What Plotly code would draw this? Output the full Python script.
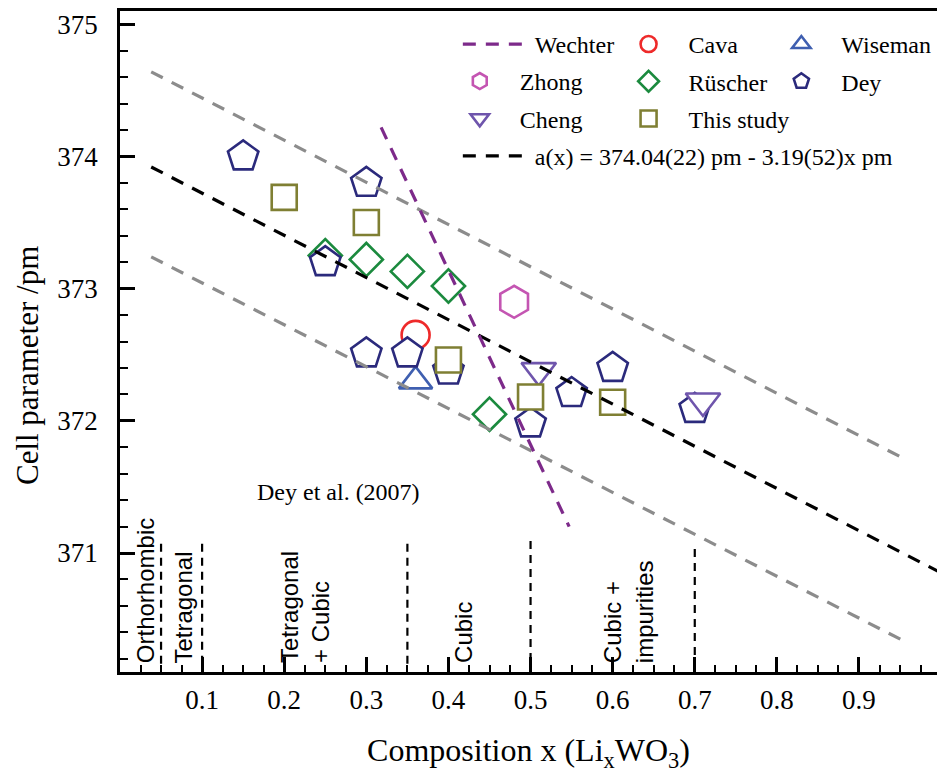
import plotly.graph_objects as go

# ---------------- data ----------------
dey_x = [0.15, 0.30, 0.25, 0.30, 0.35, 0.40, 0.50, 0.55, 0.60, 0.70]
dey_y = [374.00, 373.80, 373.20, 372.51, 372.51, 372.38, 371.98, 372.21, 372.40, 372.09]
ruscher_x = [0.25, 0.30, 0.35, 0.40, 0.45]
ruscher_y = [373.25, 373.22, 373.13, 373.02, 372.05]
study_x = [0.20, 0.30, 0.40, 0.50, 0.60]
study_y = [373.69, 373.50, 372.46, 372.18, 372.14]
cava_x = [0.36]
cava_y = [372.65]
wiseman_x = [0.36]
wiseman_y = [372.30]
zhong_x = [0.48]
zhong_y = [372.90]
cheng_x = [0.51, 0.71]
cheng_y = [372.38, 372.15]

wechter_x = [0.318, 0.547]
wechter_y = [374.22, 371.20]
fit_x = [0.038, 1.0]
fit_y = [373.92, 370.85]
band_x = [0.038, 0.956]
band_upper = [374.64, 371.71]
band_lower = [373.24, 370.33]

phase_x = [0.05, 0.10, 0.35, 0.50, 0.70]
phase_top = [371.07, 371.07, 371.07, 371.09, 371.03]
phase_bottom = [370.12, 370.12, 370.12, 370.12, 370.12]
phase_labels = ["Orthorhombic", "Tetragonal", "Tetragonal<br>+ Cubic", "Cubic", "Cubic +<br>impurities"]
phase_label_x = [0.032, 0.077, 0.226, 0.419, 0.619]
phase_label_y = 370.15

x_tickvals = [0.1, 0.2, 0.3, 0.4, 0.5, 0.6, 0.7, 0.8, 0.9]
x_ticktext = ["0.1", "0.2", "0.3", "0.4", "0.5", "0.6", "0.7", "0.8", "0.9"]
y_tickvals = [371, 372, 373, 374, 375]
y_ticktext = ["371", "372", "373", "374", "375"]

fit_label = "a(x) = 374.04(22) pm - 3.19(52)x pm"

# ---------------- styling ----------------
SERIF = 'Liberation Serif, "Times New Roman", Times, serif'
SANS = 'Liberation Sans, Arial, sans-serif'
C_DEY = "#2b2a7c"
C_RUS = "#1b8a3e"
C_STUDY = "#7f7f33"
C_CAVA = "#ee2a2a"
C_WIS = "#3f5fb0"
C_ZHONG = "#c455b2"
C_CHENG = "#6f55ac"
C_WECH = "#7d2a8a"
C_GRAY = "#8c8c8c"
DASH = "13px,10px"

fig = go.Figure()


def mk(name, xs, ys, symbol, size, color, legend, rank):
    fig.add_trace(go.Scatter(
        x=xs, y=ys, mode="markers", name=name,
        marker=dict(symbol=symbol, size=size, color="white",
                    line=dict(color=color, width=2.6)),
        legend=legend, legendrank=rank, legendgroup=name, cliponaxis=False,
    ))


mk("Rüscher", ruscher_x, ruscher_y, "diamond", 25.5, C_RUS, "legend2", 2)
mk("Cava", cava_x, cava_y, "circle", 28, C_CAVA, "legend2", 1)
mk("Wiseman", wiseman_x, wiseman_y, "triangle-up", 29, C_WIS, "legend3", 1)
mk("Dey", dey_x, dey_y, "pentagon", 32, C_DEY, "legend3", 2)
mk("Zhong", zhong_x, zhong_y, "hexagon", 32, C_ZHONG, "legend5", 1)
mk("Cheng", cheng_x, cheng_y, "triangle-down", 30, C_CHENG, "legend5", 2)
mk("This study", study_x, study_y, "square", 25, C_STUDY, "legend2", 3)

# confidence band lines
fig.add_trace(go.Scatter(x=band_x, y=band_upper, mode="lines", showlegend=False,
                         line=dict(color=C_GRAY, width=3.2, dash=DASH)))
fig.add_trace(go.Scatter(x=band_x, y=band_lower, mode="lines", showlegend=False,
                         line=dict(color=C_GRAY, width=3.2, dash=DASH)))
# fit
fig.add_trace(go.Scatter(x=fit_x, y=fit_y, mode="lines", name=fit_label,
                         line=dict(color="black", width=3.2, dash=DASH),
                         legend="legend4"))
# Wechter
fig.add_trace(go.Scatter(x=wechter_x, y=wechter_y, mode="lines", name="Wechter",
                         line=dict(color=C_WECH, width=3.2, dash=DASH),
                         legend="legend"))

# phase boundaries
px, py = [], []
for xv, t, b in zip(phase_x, phase_top, phase_bottom):
    px += [xv, xv, None]
    py += [t, b, None]
fig.add_trace(go.Scatter(x=px, y=py, mode="lines", showlegend=False,
                         line=dict(color="black", width=2.2, dash="8px,6px")))

for xv, txt in zip(phase_label_x, phase_labels):
    fig.add_annotation(x=xv, y=phase_label_y, xref="x", yref="y", text=txt,
                       textangle=-90, showarrow=False, xanchor="center", yanchor="bottom",
                       align="left", font=dict(family=SANS, size=24, color="black"))

fig.add_annotation(x=0.266, y=371.46, xref="x", yref="y", text="Dey et al. (2007)",
                   showarrow=False, font=dict(family=SERIF, size=24, color="black"))

# y axis title placed as rotated text
fig.add_annotation(x=-0.1125, y=0.463, xref="paper", yref="paper", text="Cell parameter /pm",
                   textangle=-90, showarrow=False, xanchor="center", yanchor="middle",
                   font=dict(family=SERIF, size=31, color="black"))


def leg(x, y, itemwidth):
    return dict(x=x, y=y, font=dict(family=SERIF, size=24, color="black"),
                bgcolor="rgba(0,0,0,0)", borderwidth=0, orientation="v",
                xanchor="left", yanchor="top", tracegroupgap=3, itemwidth=itemwidth,
                itemclick=False, itemdoubleclick=False)


fig.update_layout(
    width=937, height=773,
    margin=dict(l=120, r=0, t=11, b=101),
    plot_bgcolor="white", paper_bgcolor="white",
    font=dict(family=SERIF, color="black"),
    legend=leg(0.4135, 0.9834, 67),
    legend5=leg(0.3914, 0.9274, 70),
    legend2=leg(0.598, 0.9834, 70),
    legend3=leg(0.785, 0.9834, 70),
    legend4=leg(0.4135, 0.8144, 67),
    xaxis=dict(range=[0, 0.995], showgrid=False, zeroline=False,
               showline=True, linecolor="black", linewidth=2.6, mirror=True,
               ticks="inside", ticklen=15, tickwidth=2.6, tickcolor="black",
               tickmode="array", tickvals=x_tickvals, ticktext=x_ticktext,
               tickfont=dict(family=SERIF, size=27, color="black"),
               ticklabelstandoff=2,
               minor=dict(tickmode="linear", tick0=0, dtick=0.025, ticks="inside",
                          ticklen=7, tickwidth=2, tickcolor="black"),
               title=dict(text="Composition x (Li<sub>x</sub>WO<sub>3</sub>)",
                          font=dict(family=SERIF, size=32, color="black"), standoff=26)),
    yaxis=dict(range=[370.1, 375.1], showgrid=False, zeroline=False,
               showline=True, linecolor="black", linewidth=2.6, mirror=False,
               ticks="inside", ticklen=15, tickwidth=2.6, tickcolor="black",
               tickmode="array", tickvals=y_tickvals, ticktext=y_ticktext,
               tickfont=dict(family=SERIF, size=27, color="black"),
               ticklabelstandoff=14,
               minor=dict(tickmode="linear", tick0=370, dtick=0.2, ticks="inside",
                          ticklen=8, tickwidth=2, tickcolor="black")),
)

fig.write_html("out.html")
